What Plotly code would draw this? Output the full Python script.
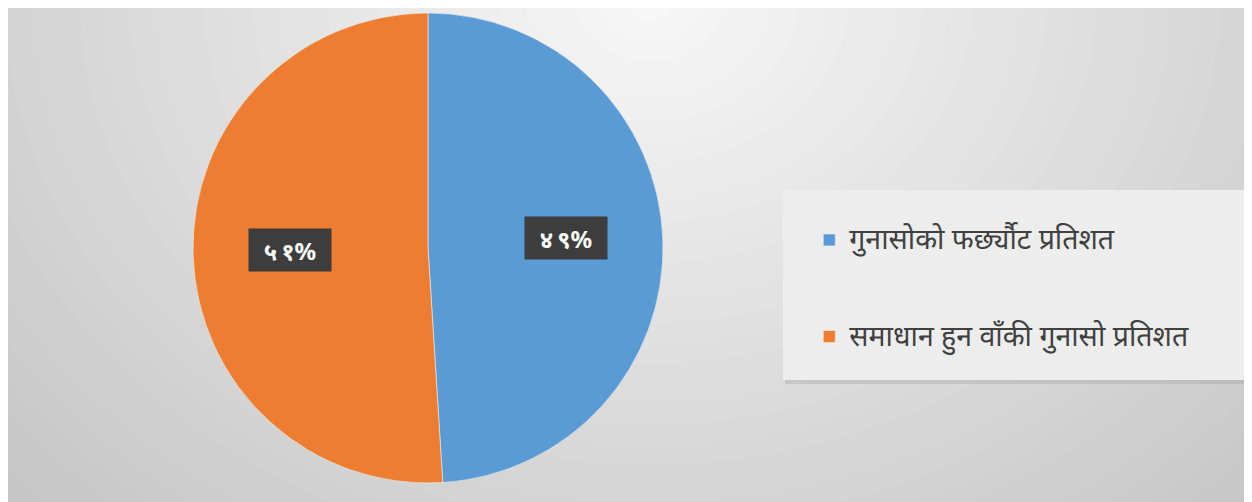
import math
import plotly.graph_objects as go

labels = ["गुनासोको फर्छ्यौट प्रतिशत", "समाधान हुन वाँकी गुनासो प्रतिशत"]
values = [49, 51]
colors = ["#5B9BD5", "#ED7D31"]

W, H = 1252, 502
DEV_DIGITS = "०१२३४५६७८९"


def to_dev(n):
    return "\u2009".join(DEV_DIGITS[int(c)] for c in str(n))


# pie geometry (figure pixels)
cx, cy, R = 420, 240, 235
dom_x = [(cx - R) / W, (cx + R) / W]
dom_y = [(H - cy - R) / H, (H - cy + R) / H]

fig = go.Figure()
fig.add_trace(go.Pie(
    labels=[f" <br><span style='font-size:28.5px'>{l}</span><br> " for l in labels],
    values=values,
    marker=dict(colors=colors, line=dict(color="#eeeeee", width=0.6)),
    sort=False,
    direction="clockwise",
    rotation=0,
    textinfo="none",
    hoverinfo="percent",
    domain=dict(x=dom_x, y=dom_y),
))

# background radial gradient via layered ellipses
shapes = []
gcx, gcy, ax, ay = 642, -8, 620, 505
levels = 40
dmax = 1.6
for i in range(levels):
    d = dmax * (1 - i / levels)
    c = max(0, min(255, int(round(248 - 35 * d))))
    col = f"rgb({c},{c},{c})"
    shapes.append(dict(
        type="circle", xref="paper", yref="paper",
        x0=(gcx - d * ax) / W, x1=(gcx + d * ax) / W,
        y0=1 - (gcy + d * ay) / H, y1=1 - (gcy - d * ay) / H,
        fillcolor=col, line=dict(width=0), layer="below"))

# legend box with soft shadow
lx0, lx1, ly0, ly1 = 775, 1239, 182, 372
shapes.append(dict(type="rect", xref="paper", yref="paper",
                   x0=(lx0 + 2) / W, x1=(lx1 + 4) / W, y0=1 - (ly1 + 4) / H, y1=1 - (ly0 + 2) / H,
                   fillcolor="rgba(160,160,160,0.35)", line=dict(width=0), layer="below"))
shapes.append(dict(type="rect", xref="paper", yref="paper",
                   x0=lx0 / W, x1=lx1 / W, y0=1 - ly1 / H, y1=1 - ly0 / H,
                   fillcolor="#ededed", line=dict(width=0), layer="below"))

# data labels in dark boxes
annotations = []
total = sum(values)
cum = 0
for v in values:
    mid = (cum + v / 2) / total * 2 * math.pi
    cum += v
    px = cx + 0.588 * R * math.sin(mid)
    py = cy - 1.3 * 0.588 * R * math.cos(mid) - 4
    annotations.append(dict(
        x=px / W, y=1 - py / H, xref="paper", yref="paper",
        xanchor="center", yanchor="middle",
        text=f"<b>{to_dev(v)}%</b>", showarrow=False,
        font=dict(size=24, color="white", family="Noto Sans, DejaVu Sans"),
        bgcolor="#3d3d3d", borderpad=6, width=70, height=30,
    ))

fig.update_layout(
    width=W, height=H,
    margin=dict(l=0, r=0, t=0, b=0),
    paper_bgcolor="#d0d0d0",
    plot_bgcolor="rgba(0,0,0,0)",
    shapes=shapes,
    annotations=annotations,
    showlegend=True,
    legend=dict(
        x=0.64, y=0.441, xanchor="left", yanchor="middle",
        bgcolor="rgba(0,0,0,0)", borderwidth=0,
        font=dict(size=24, color="#404040", family="Noto Serif, Noto Sans, serif"),
    ),
)

fig.write_html("out.html")
